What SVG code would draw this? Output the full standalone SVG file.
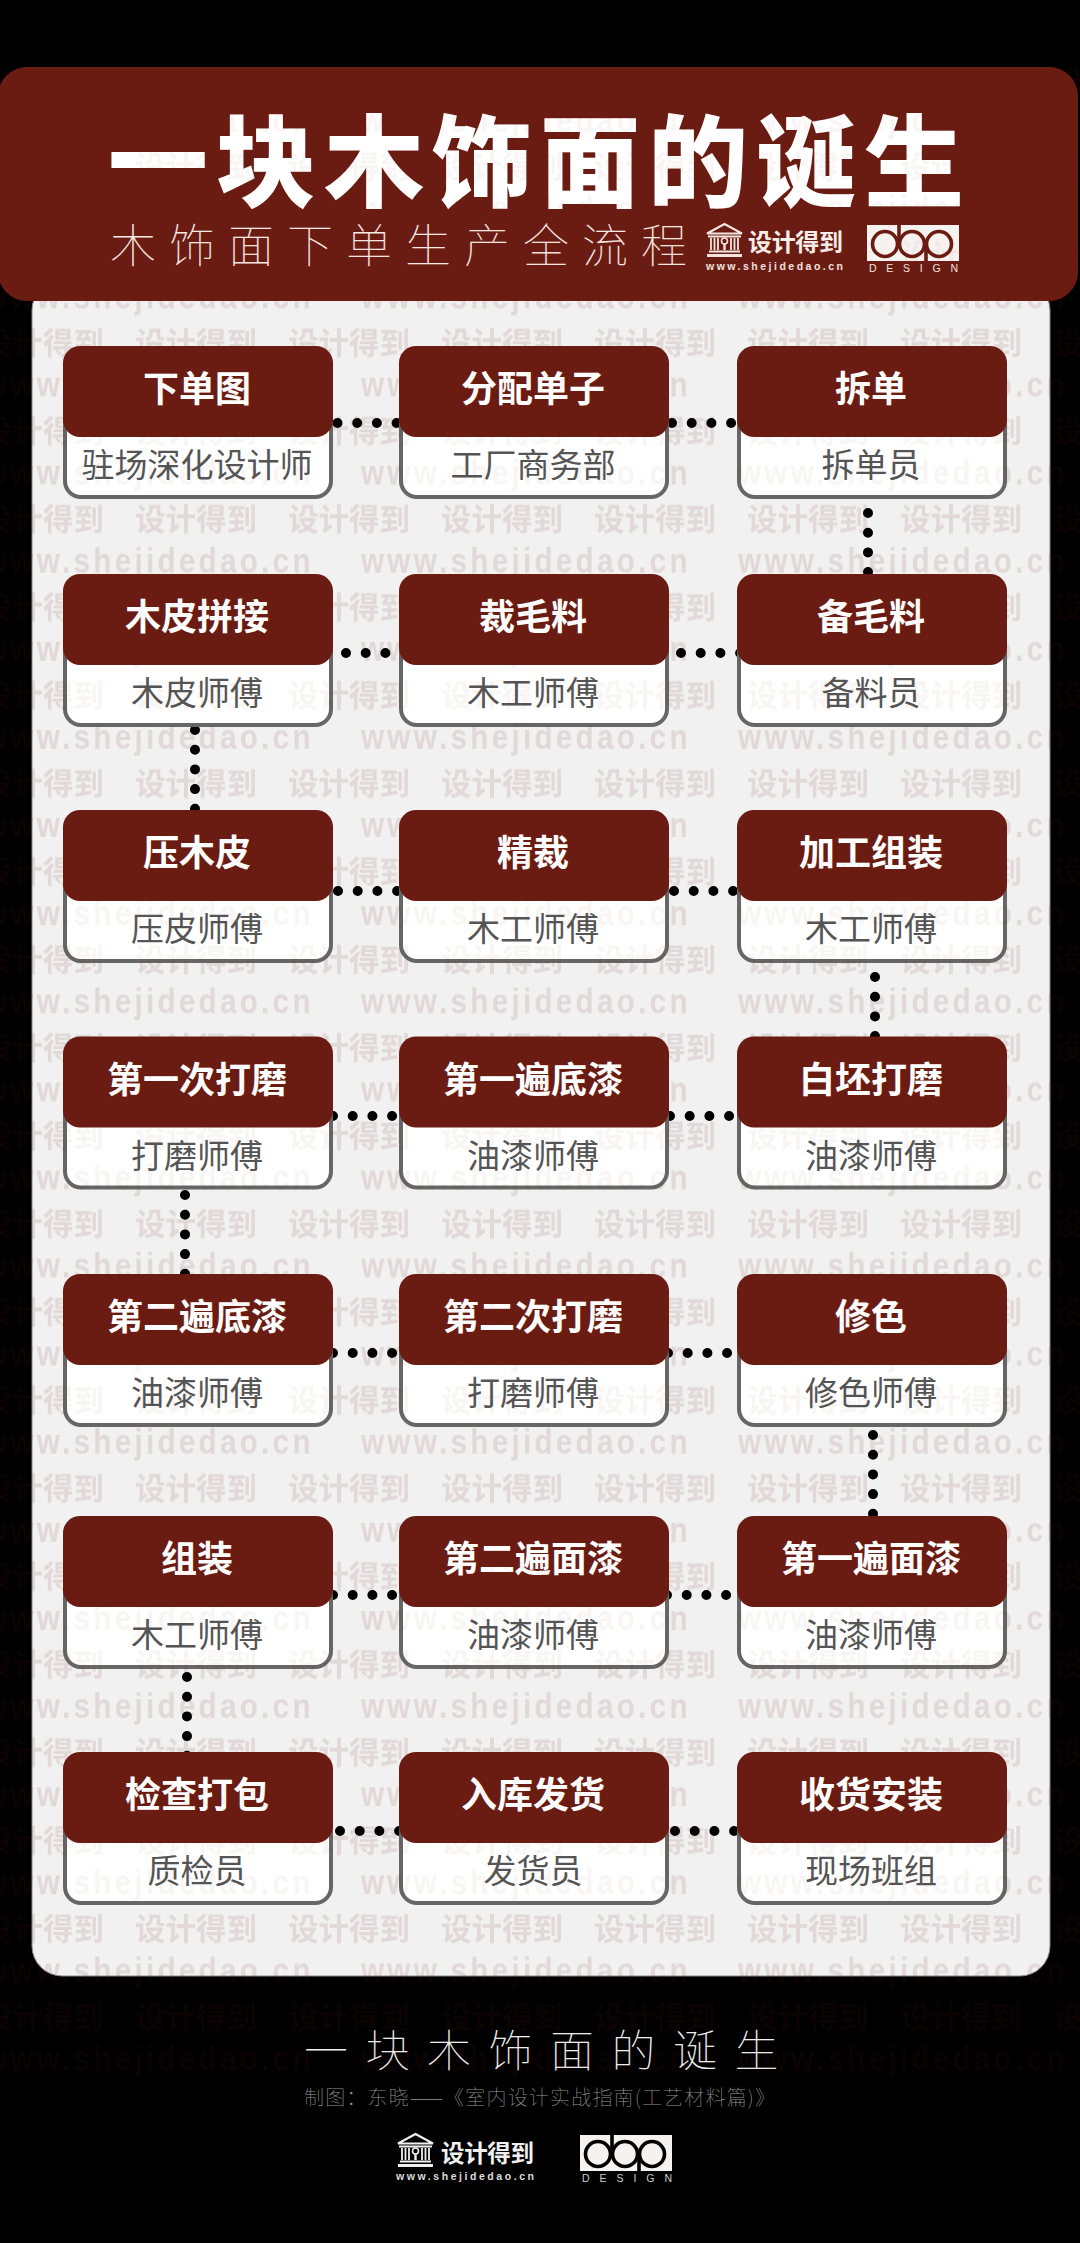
<svg xmlns="http://www.w3.org/2000/svg" width="1080" height="2243" viewBox="0 0 1080 2243">
<style>
text{font-family:"Noto Sans CJK SC","Noto Sans",sans-serif}
.lat{font-family:"Liberation Sans",Arial,sans-serif}
.head{fill:#6b1c12}
.box{fill:#fff;stroke:#666;stroke-width:4}
.t{fill:#fff;font-size:36px;font-weight:700;text-anchor:middle}
.s{fill:#555;font-size:33px;font-weight:400;text-anchor:middle}
.dots{fill:none;stroke:#000;stroke-width:10;stroke-linecap:round;stroke-dasharray:0 19.7}
.wa{font-size:30.5px;font-weight:700;fill:#6b1c12}
.wb{font-size:35px;font-weight:700;letter-spacing:3.8px;fill:#6b1c12}
.thin{font-weight:100}
</style>
<defs>
<clipPath id="wmClip"><rect x="0" y="67" width="1080" height="2018"/></clipPath>
<pattern id="wmA" patternUnits="userSpaceOnUse" x="-18" y="558" width="153" height="88.1"><text class="wa" x="0" y="60">设计得到</text></pattern>
<pattern id="wmB" patternUnits="userSpaceOnUse" x="-16" y="543" width="377" height="88.1"><text class="wb lat" x="0" y="30" transform="scale(.85,1)">www.shejidedao.cn</text></pattern>
<g id="wm" clip-path="url(#wmClip)"><rect width="1080" height="2243" fill="url(#wmA)"/><rect width="1080" height="2243" fill="url(#wmB)"/></g>
<rect id="hd" class="head" x="63" width="270" height="91" rx="17"/>
<rect id="bx" class="box" x="65" y="40" width="266" height="111" rx="16"/>
<g id="temple" fill="none" stroke="currentColor">
<path d="M18.5 1 L36 10.5 H1 Z" stroke-width="2"/>
<path d="M2 13.5 H35" stroke-width="2"/>
<circle cx="18.5" cy="18" r="3" stroke-width="1.6"/>
<path d="M18.5 21 V27" stroke-width="2.4"/>
<path d="M5 15 V27 M8.5 15 V27 M12 15 V27 M25 15 V27 M28.5 15 V27 M32 15 V27" stroke-width="1.8"/>
<path d="M3 28.500 H34" stroke-width="2"/>
<path d="M1 32.500 H36" stroke-width="3"/>
</g>
<g id="dop">
<rect width="92" height="36" fill="#f6f2f0"/>
<g fill="none" stroke="currentColor" stroke-width="3.6">
<circle cx="18" cy="19" r="12.500"/>
<circle cx="45" cy="19" r="12.500"/>
<circle cx="72" cy="19" r="12.500"/>
<path d="M32 0 V19 M59 19 V36"/>
</g>
</g>
</defs>

<rect id="background" width="1080" height="2243" fill="#000"/>
<rect id="panel" x="32" y="280" width="1018" height="1696" rx="30" fill="#f1f1f1" stroke="#888" stroke-width="1"/>
<use href="#wm" opacity="0.07"/>

<g id="connectors" class="dots">
<path d="M337.500 423H410"/><path d="M672 423H745"/>
<path d="M868 513V590"/>
<path d="M326.300 653H410"/><path d="M681 653H745"/>
<path d="M195 730V815"/>
<path d="M338 891H410"/><path d="M674 891H745"/>
<path d="M875 977V1040"/>
<path d="M333 1116H410"/><path d="M670 1116H745"/>
<path d="M185 1195V1280"/>
<path d="M333 1353H410"/><path d="M668 1353H745"/>
<path d="M873 1435V1520"/>
<path d="M333 1595H410"/><path d="M667 1595H745"/>
<path d="M187 1677V1760"/>
<path d="M340 1831H410"/><path d="M675 1831H745"/>
</g>

<g id="n1" transform="translate(0,346)"><use href="#bx"/><use href="#hd"/><text class="t" x="197" y="56">下单图</text><text class="s" x="197" y="131">驻场深化设计师</text></g>
<g id="n2" transform="translate(336,346)"><use href="#bx"/><use href="#hd"/><text class="t" x="197" y="56">分配单子</text><text class="s" x="197" y="131">工厂商务部</text></g>
<g id="n3" transform="translate(674,346)"><use href="#bx"/><use href="#hd"/><text class="t" x="197" y="56">拆单</text><text class="s" x="197" y="131">拆单员</text></g>
<g id="n4" transform="translate(674,574)"><use href="#bx"/><use href="#hd"/><text class="t" x="197" y="56">备毛料</text><text class="s" x="197" y="131">备料员</text></g>
<g id="n5" transform="translate(336,574)"><use href="#bx"/><use href="#hd"/><text class="t" x="197" y="56">裁毛料</text><text class="s" x="197" y="131">木工师傅</text></g>
<g id="n6" transform="translate(0,574)"><use href="#bx"/><use href="#hd"/><text class="t" x="197" y="56">木皮拼接</text><text class="s" x="197" y="131">木皮师傅</text></g>
<g id="n7" transform="translate(0,810)"><use href="#bx"/><use href="#hd"/><text class="t" x="197" y="56">压木皮</text><text class="s" x="197" y="131">压皮师傅</text></g>
<g id="n8" transform="translate(336,810)"><use href="#bx"/><use href="#hd"/><text class="t" x="197" y="56">精裁</text><text class="s" x="197" y="131">木工师傅</text></g>
<g id="n9" transform="translate(674,810)"><use href="#bx"/><use href="#hd"/><text class="t" x="197" y="56">加工组装</text><text class="s" x="197" y="131">木工师傅</text></g>
<g id="n10" transform="translate(674,1036.500)"><use href="#bx"/><use href="#hd"/><text class="t" x="197" y="56">白坯打磨</text><text class="s" x="197" y="131">油漆师傅</text></g>
<g id="n11" transform="translate(336,1036.500)"><use href="#bx"/><use href="#hd"/><text class="t" x="197" y="56">第一遍底漆</text><text class="s" x="197" y="131">油漆师傅</text></g>
<g id="n12" transform="translate(0,1036.500)"><use href="#bx"/><use href="#hd"/><text class="t" x="197" y="56">第一次打磨</text><text class="s" x="197" y="131">打磨师傅</text></g>
<g id="n13" transform="translate(0,1274)"><use href="#bx"/><use href="#hd"/><text class="t" x="197" y="56">第二遍底漆</text><text class="s" x="197" y="131">油漆师傅</text></g>
<g id="n14" transform="translate(336,1274)"><use href="#bx"/><use href="#hd"/><text class="t" x="197" y="56">第二次打磨</text><text class="s" x="197" y="131">打磨师傅</text></g>
<g id="n15" transform="translate(674,1274)"><use href="#bx"/><use href="#hd"/><text class="t" x="197" y="56">修色</text><text class="s" x="197" y="131">修色师傅</text></g>
<g id="n16" transform="translate(674,1516)"><use href="#bx"/><use href="#hd"/><text class="t" x="197" y="56">第一遍面漆</text><text class="s" x="197" y="131">油漆师傅</text></g>
<g id="n17" transform="translate(336,1516)"><use href="#bx"/><use href="#hd"/><text class="t" x="197" y="56">第二遍面漆</text><text class="s" x="197" y="131">油漆师傅</text></g>
<g id="n18" transform="translate(0,1516)"><use href="#bx"/><use href="#hd"/><text class="t" x="197" y="56">组装</text><text class="s" x="197" y="131">木工师傅</text></g>
<g id="n19" transform="translate(0,1752)"><use href="#bx"/><use href="#hd"/><text class="t" x="197" y="56">检查打包</text><text class="s" x="197" y="131">质检员</text></g>
<g id="n20" transform="translate(336,1752)"><use href="#bx"/><use href="#hd"/><text class="t" x="197" y="56">入库发货</text><text class="s" x="197" y="131">发货员</text></g>
<g id="n21" transform="translate(674,1752)"><use href="#bx"/><use href="#hd"/><text class="t" x="197" y="56">收货安装</text><text class="s" x="197" y="131">现场班组</text></g>

<g id="header">
<rect class="head" x="-2" y="67" width="1080" height="234" rx="29"/>
<text x="108" y="199" font-size="100" font-weight="900" letter-spacing="8" fill="#fff">一块木饰面的诞生</text>
<text class="thin" x="110" y="262" font-size="46" letter-spacing="13" fill="#f6e8e2">木饰面下单生产全流程</text>
<use href="#temple" x="706" y="223" color="#f3e6e0"/>
<text x="748" y="251" font-size="24" font-weight="700" fill="#f8efeb" textLength="95">设计得到</text>
<text class="lat" x="706" y="270" font-size="10.500" font-weight="700" fill="#f3e6e0" textLength="137">www.shejidedao.cn</text>
<use href="#dop" x="867" y="225" color="#6b1c12"/>
<text class="lat" x="869" y="272" font-size="10.500" fill="#f3e6e0" textLength="89">DESIGN</text>
</g>

<g id="footer">
<text class="thin" x="304" y="2067" font-size="44" letter-spacing="17.500" fill="#eee">一块木饰面的诞生</text>
<text class="thin" x="304" y="2105" font-size="20" fill="#999" textLength="471">制图：东晓——《室内设计实战指南(工艺材料篇)》</text>
<use href="#temple" x="397" y="2133" color="#f0f0f0"/>
<text x="441" y="2162" font-size="23.500" font-weight="700" fill="#f0f0f0" textLength="93">设计得到</text>
<text class="lat" x="396" y="2180" font-size="10.500" font-weight="700" fill="#ddd" textLength="138">www.shejidedao.cn</text>
<use href="#dop" x="580" y="2135" color="#000"/>
<text class="lat" x="582" y="2182" font-size="10.500" fill="#ccc" textLength="90">DESIGN</text>
</g>

<use href="#wm" opacity="0.04"/>
</svg>
